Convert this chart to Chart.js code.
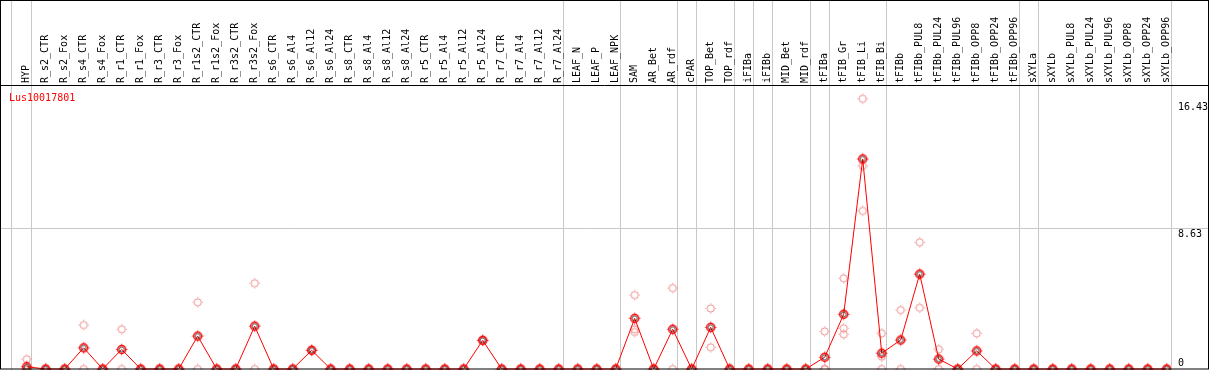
<!DOCTYPE html>
<html>
<head>
<meta charset="utf-8">
<script src="https://cdn.jsdelivr.net/npm/chart.js@4.4.1/dist/chart.umd.min.js"></script>
<style>
  html, body { margin: 0; padding: 0; background: #fff; }
  canvas { display: block; }
</style>
</head>
<body>
<canvas id="expr" width="1209" height="370"></canvas>
<script>
const geneName = 'Lus10017801';

const samples = [
  'HYP',
  'R_s2_CTR', 'R_s2_Fox', 'R_s4_CTR', 'R_s4_Fox', 'R_r1_CTR', 'R_r1_Fox', 'R_r3_CTR', 'R_r3_Fox',
  'R_r1s2_CTR', 'R_r1s2_Fox', 'R_r3s2_CTR', 'R_r3s2_Fox',
  'R_s6_CTR', 'R_s6_Al4', 'R_s6_Al12', 'R_s6_Al24', 'R_s8_CTR', 'R_s8_Al4', 'R_s8_Al12', 'R_s8_Al24',
  'R_r5_CTR', 'R_r5_Al4', 'R_r5_Al12', 'R_r5_Al24', 'R_r7_CTR', 'R_r7_Al4', 'R_r7_Al12', 'R_r7_Al24',
  'LEAF_N', 'LEAF_P', 'LEAF_NPK',
  'SAM', 'AR_Bet', 'AR_rdf', 'cPAR', 'TOP_Bet', 'TOP_rdf', 'iFIBa', 'iFIBb', 'MID_Bet', 'MID_rdf',
  'tFIBa', 'tFIB_Gr', 'tFIB_Li', 'tFIB_Bi', 'tFIBb',
  'tFIBb_PUL8', 'tFIBb_PUL24', 'tFIBb_PUL96', 'tFIBb_OPP8', 'tFIBb_OPP24', 'tFIBb_OPP96',
  'sXYLa', 'sXYLb',
  'sXYLb_PUL8', 'sXYLb_PUL24', 'sXYLb_PUL96', 'sXYLb_OPP8', 'sXYLb_OPP24', 'sXYLb_OPP96'
];

// mean expression per sample (the joined red line)
const meanExpr = [
  0.14,
  0, 0, 1.30, 0, 1.20, 0, 0, 0,
  2.02, 0, 0, 2.63,
  0, 0, 1.15, 0, 0, 0, 0, 0,
  0, 0, 0, 1.76, 0, 0, 0, 0,
  0, 0, 0,
  3.11, 0, 2.44, 0, 2.56, 0, 0, 0, 0, 0,
  0.72, 3.36, 12.9, 0.97, 1.78,
  5.83, 0.61, 0, 1.11, 0, 0,
  0, 0,
  0, 0, 0, 0, 0, 0
];

// single replicates per sample (light circles)
const replicateExpr = [
  [0.6, 0, 0, 0],
  [0, 0], [0, 0], [2.7, 0], [0, 0], [2.44, 0], [0, 0], [0, 0], [0, 0],
  [4.1, 0], [0, 0], [0, 0], [5.27, 0],
  [0, 0], [0, 0], [1.15, 1.15], [0, 0], [0, 0], [0, 0], [0, 0], [0, 0],
  [0, 0], [0, 0], [0, 0], [1.76, 1.76], [0, 0], [0, 0], [0, 0], [0, 0],
  [0, 0], [0, 0], [0, 0],
  [4.54, 2.44, 2.27], [0, 0], [4.97, 0], [0, 0], [3.72, 1.33], [0, 0], [0, 0], [0, 0], [0, 0], [0, 0],
  [2.31, 0, 0], [5.57, 2.5, 2.13], [16.6, 12.47, 9.71], [2.19, 0.76, 0], [3.62, 0],
  [7.78, 3.76], [1.21, 0], [0, 0], [2.19, 0], [0, 0], [0, 0],
  [0, 0], [0, 0],
  [0, 0], [0, 0], [0, 0], [0, 0], [0, 0], [0, 0]
];

// last sample of each tissue group, a separator follows it
const groupEnds = ['HYP', 'R_r7_Al24', 'LEAF_NPK', 'AR_rdf', 'cPAR', 'TOP_rdf', 'iFIBa', 'iFIBb',
  'MID_rdf', 'tFIBa', 'tFIB_Bi', 'tFIBb_OPP96', 'sXYLa', 'sXYLb_OPP96'];

const yTicks = [0, 8.63, 16.43];

const FONT = '10px "DejaVu Sans Mono", monospace';

// ring marker with four small nubs, like the original plot symbols
function makeMarker(color, r, lw, inner) {
  const c = document.createElement('canvas');
  c.width = 15; c.height = 15;
  const g = c.getContext('2d');
  const m = 7.5;
  g.strokeStyle = color; g.lineWidth = lw;
  g.beginPath(); g.arc(m, m, r, 0, Math.PI * 2); g.stroke();
  if (inner) {
    g.strokeStyle = inner; g.lineWidth = 0.7;
    g.beginPath(); g.arc(m, m, r - 1.5, 0, Math.PI * 2); g.stroke();
  }
  g.strokeStyle = color;
  g.lineWidth = 1;
  g.beginPath();
  const a = r + lw / 2, b = r + lw / 2 + 1;
  g.moveTo(m, m - a); g.lineTo(m, m - b);
  g.moveTo(m, m + a); g.lineTo(m, m + b);
  g.moveTo(m - a, m); g.lineTo(m - b, m);
  g.moveTo(m + a, m); g.lineTo(m + b, m);
  g.stroke();
  return c;
}

const meanMark = makeMarker('#ff0000', 4, 1.5, '#000000');
const repMark = makeMarker('#ee8e8e', 3.6, 1, null);

const repPoints = [];
replicateExpr.forEach((reps, i) => reps.forEach(v => repPoints.push({x: i, y: v})));

const frame = {
  id: 'frame',
  beforeDraw(chart) {
    const {ctx, width, height} = chart;
    const x = chart.scales.x;
    ctx.save();
    ctx.fillStyle = '#fff';
    ctx.fillRect(0, 0, width, height);
    ctx.strokeStyle = '#c8c8c8';
    ctx.lineWidth = 1;
    const seps = [-0.85].concat(groupEnds.map(s => samples.indexOf(s) + 0.21));
    seps.forEach(v => {
      const px = Math.round(x.getPixelForValue(v)) + 0.5;
      ctx.beginPath(); ctx.moveTo(px, 0); ctx.lineTo(px, height); ctx.stroke();
    });
    ctx.restore();
  },
  afterDraw(chart) {
    const {ctx, width, height} = chart;
    const y = chart.scales.y;
    ctx.save();
    ctx.strokeStyle = '#000';
    ctx.lineWidth = 1;
    ctx.beginPath(); ctx.moveTo(0, 85.5); ctx.lineTo(width, 85.5); ctx.stroke();
    ctx.strokeRect(0.5, 0.5, width - 1, height - 1.5);
    ctx.font = FONT;
    ctx.textAlign = 'left';
    ctx.textBaseline = 'alphabetic';
    ctx.fillStyle = '#ff0000';
    ctx.fillText(geneName, 9, 101);
    ctx.fillStyle = '#000';
    y.ticks.forEach(t => {
      const py = y.getPixelForValue(t.value);
      ctx.fillText(String(t.value), 1178, t.value === 0 ? py - 3 : py + 8.5);
    });
    ctx.restore();
  }
};

new Chart(document.getElementById('expr'), {
  type: 'scatter',
  data: {
    datasets: [
      {
        label: 'mean',
        data: samples.map((s, i) => ({x: i, y: meanExpr[i]})),
        showLine: true,
        borderColor: '#ff0000',
        borderWidth: 1,
        pointStyle: meanMark,
        pointRadius: 5
      },
      {
        label: 'replicates',
        data: repPoints,
        showLine: false,
        pointStyle: repMark,
        pointRadius: 5
      }
    ]
  },
  options: {
    responsive: false,
    animation: false,
    devicePixelRatio: 1,
    layout: {padding: 0, autoPadding: false},
    plugins: {
      legend: {display: false},
      tooltip: {enabled: false},
      title: {display: false}
    },
    scales: {
      x: {
        type: 'linear',
        position: 'top',
        min: -1.405,
        max: 60.226,
        afterBuildTicks: axis => { axis.ticks = samples.map((s, i) => ({value: i})); },
        afterFit: axis => { axis.height = 85; },
        ticks: {
          autoSkip: false,
          minRotation: 90,
          maxRotation: 90,
          padding: 2,
          labelOffset: 12,
          color: '#000',
          font: {family: '"DejaVu Sans Mono", monospace', size: 10},
          callback: (v, i) => samples[i]
        },
        grid: {display: false, drawTicks: false},
        border: {display: false}
      },
      y: {
        type: 'linear',
        position: 'right',
        min: -0.0614,
        max: 17.445,
        afterBuildTicks: axis => { axis.ticks = yTicks.map(v => ({value: v})); },
        afterFit: axis => { axis.width = 38; },
        ticks: {display: false},
        grid: {
          color: c => (c.tick && c.tick.value === 8.63) ? '#c8c8c8' : 'rgba(0,0,0,0)',
          drawTicks: true,
          tickLength: 38
        },
        border: {display: false}
      }
    }
  },
  plugins: [frame]
});
</script>
</body>
</html>
